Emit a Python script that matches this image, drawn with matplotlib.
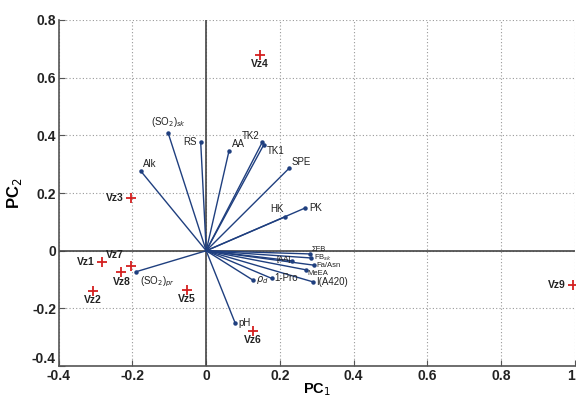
import matplotlib
matplotlib.use("Agg")
import matplotlib.pyplot as plt

plt.rcParams['font.family'] = ['Liberation Sans', 'DejaVu Sans']

# Sample scores
samples = ["Vz1", "Vz2", "Vz3", "Vz4", "Vz5", "Vz6", "Vz7", "Vz8", "Vz9"]
pc1_s = [-0.283, -0.308, -0.204, 0.145, -0.052, 0.126, -0.204, -0.230, 0.995]
pc2_s = [-0.039, -0.140, 0.182, 0.679, -0.136, -0.279, -0.053, -0.075, -0.119]

# Variable loadings
variables = ["(SO$_2$)$_{sk}$", "RS", "AA", "Alk", "TK2", "TK1", "SPE", "PK", "HK",
             "(SO$_2$)$_{pr}$", "pH", "$\\rho_d$", "1-Pro", "I(A420)",
             "ΣFB", "FB$_{sk}$", "[AA]", "Fa/Asn", "MeEA"]
pc1_v = [-0.103, -0.015, 0.062, -0.178, 0.152, 0.156, 0.225, 0.268, 0.215,
         -0.191, 0.079, 0.127, 0.178, 0.290,
         0.281, 0.284, 0.233, 0.292, 0.270]
pc2_v = [0.407, 0.378, 0.347, 0.277, 0.376, 0.367, 0.286, 0.148, 0.118,
         -0.073, -0.252, -0.102, -0.096, -0.108,
         -0.011, -0.025, -0.035, -0.050, -0.066]

x_ticks = [-0.4, -0.2, 0, 0.2, 0.4, 0.6, 0.8, 1]
y_ticks = [-0.4, -0.2, 0, 0.2, 0.4, 0.6, 0.8]

# label offsets (points), alignment and size
var_off = {
    0: (0, 3, 'center', 'bottom', 7), 1: (-3, 0, 'right', 'center', 7), 2: (2, 1, 'left', 'bottom', 7),
    3: (2, 1, 'left', 'bottom', 7), 4: (-2, 1, 'right', 'bottom', 7), 5: (2, -1, 'left', 'top', 7),
    6: (2, 1, 'left', 'bottom', 7), 7: (3, 0, 'left', 'center', 7), 8: (-1, 2, 'right', 'bottom', 7),
    9: (3, -2, 'left', 'top', 7), 10: (2, 0, 'left', 'center', 7), 11: (2, 0, 'left', 'center', 7),
    12: (2, 0, 'left', 'center', 7), 13: (2, 0, 'left', 'center', 7),
    14: (1, 3, 'left', 'center', 5.5), 15: (2, 0, 'left', 'center', 5.5), 16: (-1, 1, 'right', 'center', 5.5),
    17: (2, -0.5, 'left', 'center', 5.5), 18: (1, -2.5, 'left', 'center', 5.5),
}
samp_off = {
    0: (-5, 0, 'right', 'center'), 1: (0, -3, 'center', 'top'), 2: (-5, 0, 'right', 'center'),
    3: (0, -3, 'center', 'top'), 4: (0, -3, 'center', 'top'), 5: (0, -3, 'center', 'top'),
    6: (-5, 4, 'right', 'bottom'), 7: (0, -3, 'center', 'top'), 8: (-5, 0, 'right', 'center'),
}

fig = plt.figure(figsize=(5.76, 3.98), dpi=100)
ax = fig.add_axes([0.102, 0.080, 0.896, 0.870])

ax.set_xlim(-0.4, 1.0)
ax.set_ylim(-0.4, 0.8)
ax.set_xticks(x_ticks)
ax.set_yticks(y_ticks)
ax.set_xticklabels([f"{t:g}" for t in x_ticks])
ax.set_yticklabels([f"{t:g}" for t in y_ticks])
ax.grid(True, linestyle=(0, (1, 2)), color='#999999', linewidth=0.8)
ax.set_axisbelow(True)
for s in ['top', 'right']:
    ax.spines[s].set_visible(False)
for s in ['left', 'bottom']:
    ax.spines[s].set_color('#555555')
    ax.spines[s].set_linewidth(1.2)
ax.tick_params(direction='in', length=4, color='#555555', labelsize=10, pad=2)
for lab in ax.get_xticklabels() + ax.get_yticklabels():
    lab.set_fontweight('bold')
    lab.set_color('#222222')
xl = ax.get_xticklabels()
xl[-1].set_horizontalalignment('right')
yl = ax.get_yticklabels()
yl[0].set_verticalalignment('bottom')

ax.axhline(0, color='#444444', linewidth=1.2, zorder=1)
ax.axvline(0, color='#444444', linewidth=1.2, zorder=1)

line_col = '#1f3f7f'
for i, (name, vx, vy) in enumerate(zip(variables, pc1_v, pc2_v)):
    ax.plot([0, vx], [0, vy], color=line_col, linewidth=1.0, zorder=2)
    ax.plot(vx, vy, 'o', color=line_col, markersize=2.2, zorder=3)
    dx, dy, ha, va, fs = var_off[i]
    ax.annotate(name, (vx, vy), xytext=(dx, dy), textcoords='offset points',
                ha=ha, va=va, fontsize=fs, color='#222222', zorder=4)

for i, (name, sx, sy) in enumerate(zip(samples, pc1_s, pc2_s)):
    ax.plot(sx, sy, '+', color='#d42020', markersize=7, markeredgewidth=1.3, zorder=5,
            clip_on=False)
    dx, dy, ha, va = samp_off[i]
    ax.annotate(name, (sx, sy), xytext=(dx, dy), textcoords='offset points',
                ha=ha, va=va, fontsize=7.5, fontweight='bold', color='#222222', zorder=6)

ax.set_xlabel("PC$_1$", fontsize=10.5, fontweight='bold', labelpad=-1)
ax.set_ylabel("PC$_2$", fontsize=12, fontweight='bold', labelpad=6)

fig.savefig("out.png", dpi=100)
